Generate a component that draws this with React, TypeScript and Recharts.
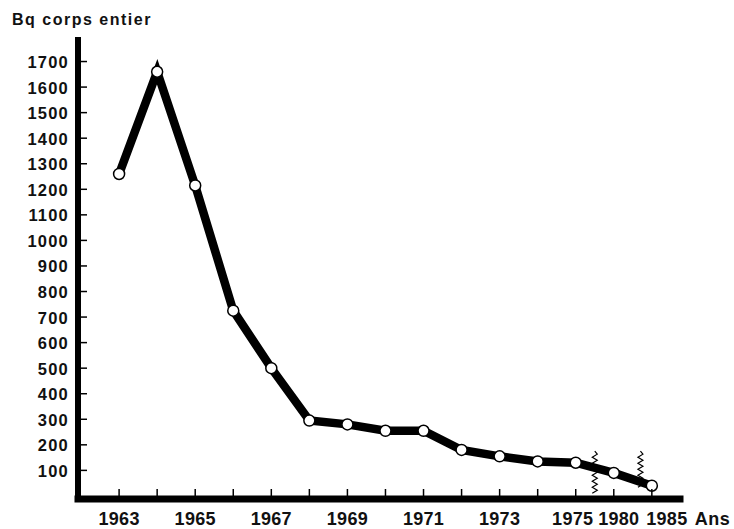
import React from 'react';
import { LineChart, Line, XAxis, YAxis, ReferenceLine, Label } from 'recharts';

const years = ['1963', '1964', '1965', '1966', '1967', '1968', '1969', '1970', '1971', '1972', '1973', '1974', '1975', '1980', '1985'];
const values = [1260, 1660, 1215, 725, 500, 295, 280, 255, 255, 180, 155, 135, 130, 90, 40];
const shownYears = ['1963', '1965', '1967', '1969', '1971', '1973', '1975', '1980', '1985'];
const yTicks = [100, 200, 300, 400, 500, 600, 700, 800, 900, 1000, 1100, 1200, 1300, 1400, 1500, 1600, 1700];
const breakPositions = [12.5, 13.7];
const breakTops = [175, 175];
const breakBottoms = [2, 30];
const title = 'Bq corps entier';
const xUnit = 'Ans';

const data = years.map((year, i) => ({ idx: i, year, value: values[i] }));
const xTickValues = years.map((_, i) => i);
const labelShift: Record<string, number> = { '1975': -3, '1980': 5, '1985': 15 };

const FONT = '"Liberation Sans", Arial, Helvetica, sans-serif';
const Y_MARGIN = 9;

const YTick = (props: any) => {
  const { x, y, payload } = props;
  const axisX = x + Y_MARGIN;
  return (
    <g>
      <line x1={axisX} x2={axisX + 9} y1={y} y2={y} stroke="#000" strokeWidth={1.5} />
      <text x={x} y={y} dy={6.5} textAnchor="end" fontFamily={FONT} fontWeight="bold" fontSize={16.5} letterSpacing={1.2} fill="#111">
        {payload.value}
      </text>
    </g>
  );
};

const XTick = (props: any) => {
  const { x, y, payload } = props;
  const year = years[payload.value];
  const show = shownYears.includes(year);
  const shift = labelShift[year] || 0;
  const isLast = payload.value === years.length - 1;
  return (
    <g>
      <line x1={x} x2={x} y1={y} y2={y - 10} stroke="#000" strokeWidth={1.5} />
      {show && (
        <text x={x + shift} y={y + 26} textAnchor="middle" fontFamily={FONT} fontWeight="bold" fontSize={18} letterSpacing={0.3} fill="#111">
          {year}
        </text>
      )}
      {isLast && (
        <text x={x + 43} y={y + 26} textAnchor="start" fontFamily={FONT} fontWeight="bold" fontSize={18} letterSpacing={0.5} fill="#111">
          {xUnit}
        </text>
      )}
    </g>
  );
};

const Zigzag = (p: any) => {
  const { x1, y1, y2 } = p;
  const top = Math.min(y1, y2);
  const bot = Math.max(y1, y2);
  let d = `M${x1},${top}`;
  let k = 0;
  for (let y = top + 3; y <= bot; y += 3) {
    d += ` L${x1 + (k % 2 === 0 ? 2.5 : -2.5)},${y}`;
    k++;
  }
  return <path d={d} stroke="#000" strokeWidth={1.2} fill="none" />;
};

const TitleLabel = (p: any) => {
  const vb = p.viewBox || { x: 0, y: 37 };
  return (
    <text x={vb.x + 12} y={vb.y - 12} fontFamily={FONT} fontWeight="bold" fontSize={16} letterSpacing={1.5} fill="#111">
      {title}
    </text>
  );
};

export default function App() {
  return (
    <div style={{ position: 'absolute', left: 0, top: 0, background: '#fff' }}>
      <LineChart width={734} height={529} data={data} margin={{ top: 37, right: 54, bottom: 0, left: 0 }}>
        <XAxis
          dataKey="idx"
          type="number"
          domain={[-1.08, 14.74]}
          ticks={xTickValues}
          interval={0}
          height={30}
          tickSize={0}
          tickMargin={0}
          tick={<XTick />}
          axisLine={{ stroke: '#000', strokeWidth: 7, strokeLinecap: 'square' }}
          tickLine={false}
          allowDataOverflow
        />
        <YAxis
          type="number"
          domain={[-12, 1796]}
          ticks={yTicks}
          interval={0}
          width={78}
          tickSize={0}
          tickMargin={Y_MARGIN}
          tick={<YTick />}
          axisLine={{ stroke: '#000', strokeWidth: 6 }}
          tickLine={false}
          allowDataOverflow
        >
          <Label content={<TitleLabel />} />
        </YAxis>
        {breakPositions.map((bx, i) => (
          <ReferenceLine
            key={i}
            segment={[{ x: bx, y: breakTops[i] }, { x: bx, y: breakBottoms[i] }]}
            shape={<Zigzag />}
            ifOverflow="visible"
          />
        ))}
        <Line
          type="linear"
          dataKey="value"
          stroke="#000"
          strokeWidth={8.5}
          strokeLinejoin="miter"
          dot={{ r: 5.5, fill: '#fff', stroke: '#000', strokeWidth: 1.5 }}
          isAnimationActive={false}
        />
      </LineChart>
    </div>
  );
}
